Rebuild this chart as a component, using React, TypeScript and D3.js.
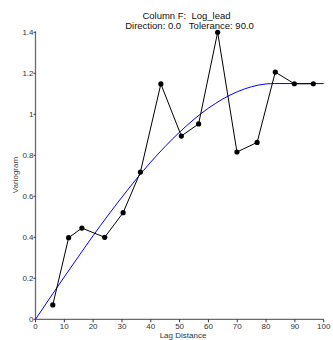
import React, { useRef, useEffect } from "react";
import * as d3 from "d3";

// experimental variogram (lag distance, gamma)
const lags = [6, 11.5, 16.1, 24, 30.4, 36.4, 43.5, 50.6, 56.6, 63.2, 69.9, 76.9, 83.2, 89.8, 96.4];
const gammas = [0.07, 0.398, 0.445, 0.4, 0.52, 0.718, 1.148, 0.894, 0.953, 1.4, 0.816, 0.863, 1.206, 1.149, 1.149];

// model curve
const modelLags = [0, 5, 10, 15, 20, 30, 40, 50, 60, 70, 80, 83, 90, 100];
const modelGammas = [0, 0.104, 0.207, 0.308, 0.408, 0.596, 0.767, 0.913, 1.03, 1.11, 1.148, 1.15, 1.15, 1.15];

const xTicks = [0, 10, 20, 30, 40, 50, 60, 70, 80, 90, 100];
const yTicks = [0, 0.2, 0.4, 0.6, 0.8, 1, 1.2, 1.4];

const titleLines = ["Column F:  Log_lead", "Direction: 0.0   Tolerance: 90.0"];

export default function App() {
  const ref = useRef<SVGSVGElement>(null);

  useEffect(() => {
    const svg = d3.select(ref.current);
    svg.selectAll("*").remove();

    const font = "'Liberation Sans', Arial, sans-serif";
    const x = d3.scaleLinear().domain([0, 100]).range([35.5, 323.7]);
    const y = d3.scaleLinear().domain([0, 1.4]).range([319.3, 32.3]);

    // title
    svg.append("text")
      .attr("x", 186.5).attr("y", 18.7)
      .attr("text-anchor", "middle")
      .attr("font-family", font).attr("font-size", 9.5)
      .attr("fill", "#111")
      .style("white-space", "pre")
      .text(titleLines[0]);
    svg.append("text")
      .attr("x", 189.5).attr("y", 28.7)
      .attr("text-anchor", "middle")
      .attr("font-family", font).attr("font-size", 9.5)
      .attr("fill", "#111")
      .style("white-space", "pre")
      .text(titleLines[1]);

    // axes
    const axisColor = "#6a6a6a";
    svg.append("line")
      .attr("x1", x(0)).attr("x2", x(100))
      .attr("y1", y(0)).attr("y2", y(0))
      .attr("stroke", axisColor).attr("stroke-width", 1.3);
    svg.append("line")
      .attr("x1", x(0)).attr("x2", x(0))
      .attr("y1", y(0)).attr("y2", y(1.4) - 1)
      .attr("stroke", axisColor).attr("stroke-width", 1.3);

    xTicks.forEach(t => {
      svg.append("line")
        .attr("x1", x(t)).attr("x2", x(t))
        .attr("y1", y(0)).attr("y2", y(0) + 3)
        .attr("stroke", "#333").attr("stroke-width", 1);
      svg.append("text")
        .attr("x", x(t)).attr("y", 329)
        .attr("text-anchor", "middle")
        .attr("font-family", font).attr("font-size", 8)
        .attr("fill", "#333")
        .text(t);
    });

    yTicks.forEach(t => {
      svg.append("line")
        .attr("x1", x(0) - 2).attr("x2", x(0))
        .attr("y1", y(t)).attr("y2", y(t))
        .attr("stroke", "#333").attr("stroke-width", 1);
      svg.append("text")
        .attr("x", x(0) - 2).attr("y", y(t) + 3)
        .attr("text-anchor", "end")
        .attr("font-family", font).attr("font-size", 8)
        .attr("fill", "#333")
        .text(d3.format("")(t));
    });

    // axis titles
    svg.append("text")
      .attr("transform", `translate(18,175) rotate(-90)`)
      .attr("text-anchor", "middle")
      .attr("font-family", font).attr("font-size", 8)
      .attr("fill", "#444")
      .text("Variogram");
    svg.append("text")
      .attr("x", 183).attr("y", 338)
      .attr("text-anchor", "middle")
      .attr("font-family", font).attr("font-size", 8)
      .attr("fill", "#333")
      .text("Lag Distance");

    // model curve
    const model = modelLags.map((h, i) => [h, modelGammas[i]] as [number, number]);
    const modelLine = d3.line<[number, number]>()
      .x(d => x(d[0])).y(d => y(d[1]))
      .curve(d3.curveMonotoneX);
    svg.append("path")
      .datum(model)
      .attr("d", modelLine)
      .attr("fill", "none")
      .attr("stroke", "#0000ff")
      .attr("stroke-width", 1);

    // experimental points
    const pts = lags.map((h, i) => [h, gammas[i]] as [number, number]);
    const ptLine = d3.line<[number, number]>().x(d => x(d[0])).y(d => y(d[1]));
    svg.append("path")
      .datum(pts)
      .attr("d", ptLine)
      .attr("fill", "none")
      .attr("stroke", "#000")
      .attr("stroke-width", 1);
    svg.selectAll("circle.pt")
      .data(pts)
      .enter().append("circle")
      .attr("class", "pt")
      .attr("cx", d => x(d[0]))
      .attr("cy", d => y(d[1]))
      .attr("r", 2.6)
      .attr("fill", "#000");
  }, []);

  return (
    <svg
      ref={ref}
      width={333}
      height={340}
      style={{ position: "absolute", left: 0, top: 0, background: "#fff" }}
    />
  );
}
